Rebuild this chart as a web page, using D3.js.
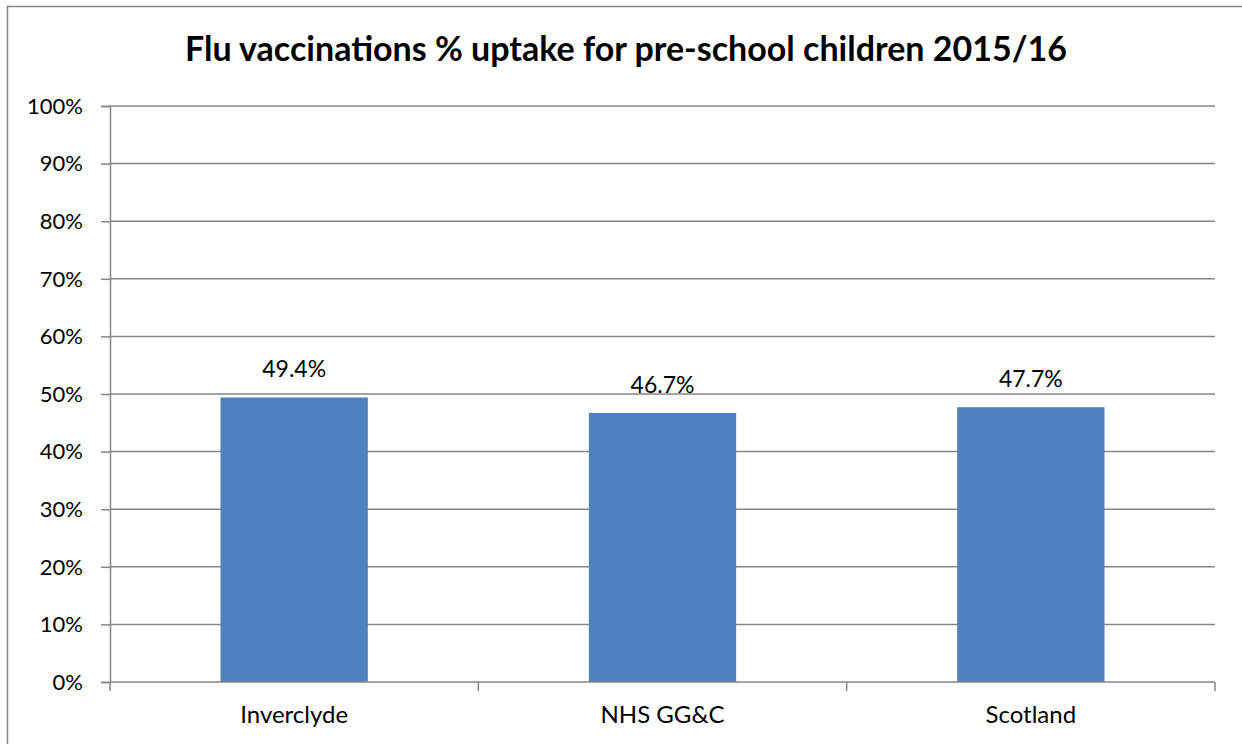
<!DOCTYPE html>
<html>
<head>
<meta charset="utf-8">
<script src="https://cdn.jsdelivr.net/npm/d3@7"></script>
<style>
  html, body { margin: 0; padding: 0; background: #fff; }
  svg { display: block; }
  text { font-family: Lato, "Open Sans", sans-serif; fill: #000; }
</style>
</head>
<body>
<svg id="chart" width="1242" height="744"></svg>
<script>
const titleText = "Flu vaccinations % uptake for pre-school children 2015/16";
const categories = ["Inverclyde", "NHS GG&C", "Scotland"];
const values = [49.4, 46.7, 47.7];
const yTicks = [0, 10, 20, 30, 40, 50, 60, 70, 80, 90, 100];

const svg = d3.select("#chart");
const W = 1242, H = 744;
const plot = { left: 110, right: 1215, top: 106, bottom: 682 };

// outer frame (extends past right/bottom edge as in reference)
svg.append("rect")
  .attr("x", 7.5).attr("y", 6.5)
  .attr("width", W + 10).attr("height", H + 10)
  .attr("fill", "#fff").attr("stroke", "#868686").attr("stroke-width", 1.5);

const x = d3.scaleBand().domain(categories).range([plot.left, plot.right]).paddingInner(0.6).paddingOuter(0.3);
const xOuter = d3.scaleBand().domain(categories).range([plot.left, plot.right]);
const y = d3.scaleLinear().domain([0, 100]).range([plot.bottom, plot.top]);

// gridlines
svg.append("g").selectAll("line").data(yTicks.filter(d => d > 0)).join("line")
  .attr("x1", plot.left).attr("x2", plot.right)
  .attr("y1", d => y(d)).attr("y2", d => y(d))
  .attr("stroke", "#868686").attr("stroke-width", 1.5);

// y axis
const yAxis = d3.axisLeft(y).tickValues(yTicks).tickFormat(d => d + "%").tickSize(9).tickPadding(18);
const gy = svg.append("g").attr("transform", `translate(${plot.left},0)`).call(yAxis);
gy.select(".domain").attr("stroke", "#868686").attr("stroke-width", 1.5);
gy.selectAll(".tick line").attr("stroke", "#868686").attr("stroke-width", 1.5);
gy.selectAll(".tick text").attr("font-size", 22).attr("font-family", "Lato, 'Open Sans', sans-serif").attr("fill", "#000").attr("dy", "0.33em");

// bars
svg.append("g").selectAll("rect").data(values).join("rect")
  .attr("x", (d, i) => x(categories[i]))
  .attr("width", x.bandwidth())
  .attr("y", d => y(d))
  .attr("height", d => y(0) - y(d))
  .attr("fill", "#4F81BD");

// x axis
const gx = svg.append("g").attr("transform", `translate(0,${plot.bottom})`);
gx.append("line").attr("x1", plot.left).attr("x2", plot.right).attr("y1", 0).attr("y2", 0)
  .attr("stroke", "#868686").attr("stroke-width", 1.5);
const boundaries = [plot.left].concat(categories.map(c => xOuter(c) + xOuter.bandwidth()));
gx.selectAll("line.tk").data(boundaries).join("line").attr("class", "tk")
  .attr("x1", d => d).attr("x2", d => d).attr("y1", 0).attr("y2", 9)
  .attr("stroke", "#868686").attr("stroke-width", 1.5);
gx.selectAll("text").data(categories).join("text")
  .attr("x", d => xOuter(d) + xOuter.bandwidth() / 2)
  .attr("y", 41)
  .attr("text-anchor", "middle")
  .attr("font-size", 24)
  .text(d => d);

// value labels
svg.append("g").selectAll("text").data(values).join("text")
  .attr("x", (d, i) => x(categories[i]) + x.bandwidth() / 2)
  .attr("y", d => y(d) - 20)
  .attr("text-anchor", "middle")
  .attr("font-size", 23)
  .text(d => d.toFixed(1) + "%");

// title
svg.append("text")
  .attr("x", 626).attr("y", 61)
  .attr("text-anchor", "middle")
  .attr("font-size", 34)
  .attr("font-weight", "bold")
  .text(titleText);
</script>
</body>
</html>
